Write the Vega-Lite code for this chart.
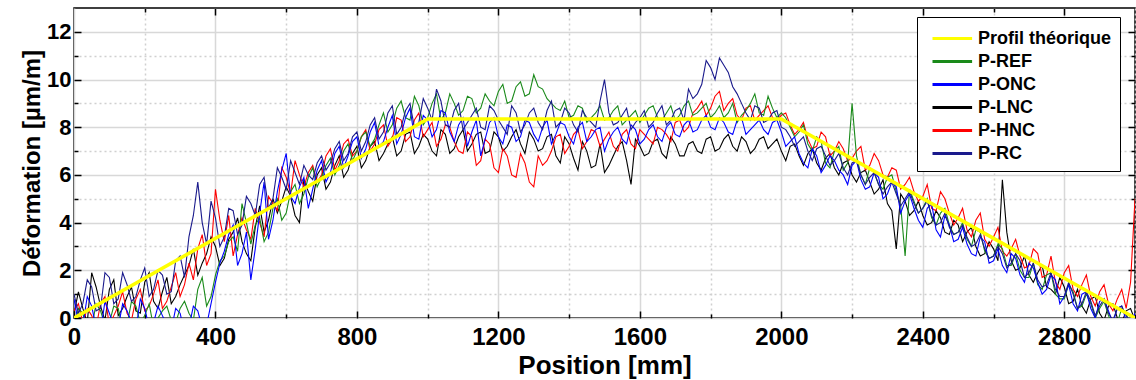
{
"$schema": "https://vega.github.io/schema/vega-lite/v6.json",
"width": 1061, "height": 310,
"autosize": {"type": "none"},
"padding": {"left": 74, "top": 8, "right": 1, "bottom": 62},
"background": "white",
"config": {"view": {"stroke": "#000", "strokeWidth": 1.5}, "font": "Liberation Sans"},
"datasets": {
"meas": [
{"x":0,"P-REF":-0.5,"P-ONC":0.8,"P-LNC":0.2,"P-HNC":0.3,"P-RC":1.0},
{"x":25,"P-REF":0.2,"P-ONC":-0.3,"P-LNC":0.4,"P-HNC":-0.2,"P-RC":0.6},
{"x":50,"P-REF":-0.4,"P-ONC":0.5,"P-LNC":1.9,"P-HNC":0.1,"P-RC":1.3},
{"x":75,"P-REF":0.3,"P-ONC":-0.6,"P-LNC":0.5,"P-HNC":0.6,"P-RC":0.4},
{"x":100,"P-REF":-0.2,"P-ONC":0.2,"P-LNC":1.2,"P-HNC":-0.3,"P-RC":1.7},
{"x":125,"P-REF":0.4,"P-ONC":-0.4,"P-LNC":0.1,"P-HNC":0.5,"P-RC":0.8},
{"x":150,"P-REF":-0.3,"P-ONC":0.3,"P-LNC":0.9,"P-HNC":0.2,"P-RC":1.4},
{"x":175,"P-REF":0.5,"P-ONC":-0.5,"P-LNC":0.3,"P-HNC":0.8,"P-RC":0.9},
{"x":200,"P-REF":0.1,"P-ONC":0.4,"P-LNC":1.5,"P-HNC":0.3,"P-RC":2.1},
{"x":225,"P-REF":-0.4,"P-ONC":-0.2,"P-LNC":0.7,"P-HNC":1.0,"P-RC":1.2},
{"x":250,"P-REF":0.3,"P-ONC":0.1,"P-LNC":1.1,"P-HNC":0.4,"P-RC":1.8},
{"x":275,"P-REF":-0.1,"P-ONC":-0.5,"P-LNC":0.6,"P-HNC":1.3,"P-RC":1.1},
{"x":300,"P-REF":0.4,"P-ONC":0.2,"P-LNC":1.4,"P-HNC":0.9,"P-RC":2.6},
{"x":325,"P-REF":0.2,"P-ONC":-0.4,"P-LNC":2.2,"P-HNC":2.3,"P-RC":3.4},
{"x":350,"P-REF":1.2,"P-ONC":0.3,"P-LNC":1.8,"P-HNC":2.9,"P-RC":5.7},
{"x":375,"P-REF":0.5,"P-ONC":-0.3,"P-LNC":2.7,"P-HNC":2.2,"P-RC":3.1},
{"x":400,"P-REF":1.8,"P-ONC":1.5,"P-LNC":3.0,"P-HNC":5.4,"P-RC":4.2},
{"x":425,"P-REF":2.6,"P-ONC":2.8,"P-LNC":2.5,"P-HNC":3.2,"P-RC":3.4},
{"x":450,"P-REF":3.4,"P-ONC":3.9,"P-LNC":3.6,"P-HNC":2.6,"P-RC":4.5},
{"x":475,"P-REF":4.8,"P-ONC":2.7,"P-LNC":3.2,"P-HNC":4.2,"P-RC":3.9},
{"x":500,"P-REF":3.1,"P-ONC":1.6,"P-LNC":2.4,"P-HNC":3.3,"P-RC":4.8},
{"x":525,"P-REF":4.2,"P-ONC":4.4,"P-LNC":4.7,"P-HNC":4.0,"P-RC":5.6},
{"x":550,"P-REF":3.6,"P-ONC":3.3,"P-LNC":4.1,"P-HNC":5.1,"P-RC":4.6},
{"x":575,"P-REF":5.0,"P-ONC":5.3,"P-LNC":4.4,"P-HNC":4.5,"P-RC":6.3},
{"x":600,"P-REF":4.4,"P-ONC":6.9,"P-LNC":5.5,"P-HNC":5.9,"P-RC":5.4},
{"x":625,"P-REF":5.6,"P-ONC":4.8,"P-LNC":4.3,"P-HNC":6.6,"P-RC":6.1},
{"x":650,"P-REF":5.2,"P-ONC":5.9,"P-LNC":5.8,"P-HNC":5.5,"P-RC":6.4},
{"x":675,"P-REF":6.3,"P-ONC":5.4,"P-LNC":4.9,"P-HNC":6.4,"P-RC":5.8},
{"x":700,"P-REF":5.9,"P-ONC":6.6,"P-LNC":6.3,"P-HNC":6.0,"P-RC":6.8},
{"x":725,"P-REF":6.7,"P-ONC":6.1,"P-LNC":5.7,"P-HNC":7.1,"P-RC":6.5},
{"x":750,"P-REF":6.4,"P-ONC":7.2,"P-LNC":6.8,"P-HNC":6.6,"P-RC":7.4},
{"x":775,"P-REF":7.3,"P-ONC":6.8,"P-LNC":6.2,"P-HNC":7.5,"P-RC":6.9},
{"x":800,"P-REF":7.0,"P-ONC":7.6,"P-LNC":7.2,"P-HNC":7.0,"P-RC":7.8},
{"x":825,"P-REF":7.8,"P-ONC":7.1,"P-LNC":6.6,"P-HNC":7.9,"P-RC":7.4},
{"x":850,"P-REF":7.5,"P-ONC":8.2,"P-LNC":7.4,"P-HNC":7.3,"P-RC":8.4},
{"x":875,"P-REF":8.6,"P-ONC":7.4,"P-LNC":6.9,"P-HNC":8.1,"P-RC":7.8},
{"x":900,"P-REF":8.1,"P-ONC":8.5,"P-LNC":7.6,"P-HNC":7.5,"P-RC":8.9},
{"x":925,"P-REF":9.1,"P-ONC":7.7,"P-LNC":7.0,"P-HNC":8.3,"P-RC":8.0},
{"x":950,"P-REF":8.3,"P-ONC":8.8,"P-LNC":7.8,"P-HNC":7.6,"P-RC":9.0},
{"x":975,"P-REF":8.9,"P-ONC":7.5,"P-LNC":7.2,"P-HNC":8.6,"P-RC":8.2},
{"x":1000,"P-REF":8.4,"P-ONC":8.3,"P-LNC":7.5,"P-HNC":7.9,"P-RC":8.8},
{"x":1025,"P-REF":9.4,"P-ONC":7.9,"P-LNC":6.8,"P-HNC":7.2,"P-RC":9.6},
{"x":1050,"P-REF":8.6,"P-ONC":8.6,"P-LNC":7.7,"P-HNC":8.1,"P-RC":8.1},
{"x":1075,"P-REF":9.0,"P-ONC":7.4,"P-LNC":7.1,"P-HNC":7.4,"P-RC":8.7},
{"x":1100,"P-REF":8.7,"P-ONC":8.4,"P-LNC":7.9,"P-HNC":6.9,"P-RC":7.9},
{"x":1125,"P-REF":9.2,"P-ONC":7.8,"P-LNC":7.3,"P-HNC":7.6,"P-RC":8.5},
{"x":1150,"P-REF":8.8,"P-ONC":6.8,"P-LNC":7.8,"P-HNC":6.6,"P-RC":8.0},
{"x":1175,"P-REF":9.1,"P-ONC":8.2,"P-LNC":7.0,"P-HNC":7.3,"P-RC":8.9},
{"x":1200,"P-REF":9.5,"P-ONC":7.6,"P-LNC":7.6,"P-HNC":6.1,"P-RC":8.3},
{"x":1225,"P-REF":9.0,"P-ONC":8.1,"P-LNC":7.2,"P-HNC":6.8,"P-RC":7.7},
{"x":1250,"P-REF":9.7,"P-ONC":7.4,"P-LNC":7.9,"P-HNC":5.9,"P-RC":8.6},
{"x":1275,"P-REF":9.3,"P-ONC":8.3,"P-LNC":6.9,"P-HNC":6.5,"P-RC":8.1},
{"x":1300,"P-REF":10.2,"P-ONC":7.7,"P-LNC":7.5,"P-HNC":5.5,"P-RC":8.8},
{"x":1325,"P-REF":9.6,"P-ONC":8.0,"P-LNC":7.1,"P-HNC":6.4,"P-RC":7.9},
{"x":1350,"P-REF":9.0,"P-ONC":7.3,"P-LNC":7.7,"P-HNC":7.0,"P-RC":9.1},
{"x":1375,"P-REF":8.7,"P-ONC":8.2,"P-LNC":6.5,"P-HNC":7.7,"P-RC":8.2},
{"x":1400,"P-REF":8.4,"P-ONC":7.6,"P-LNC":7.3,"P-HNC":7.2,"P-RC":8.6},
{"x":1425,"P-REF":8.9,"P-ONC":8.0,"P-LNC":6.2,"P-HNC":7.9,"P-RC":7.8},
{"x":1450,"P-REF":8.2,"P-ONC":7.4,"P-LNC":7.0,"P-HNC":7.4,"P-RC":8.4},
{"x":1475,"P-REF":8.6,"P-ONC":7.9,"P-LNC":6.4,"P-HNC":7.8,"P-RC":8.0},
{"x":1500,"P-REF":8.3,"P-ONC":7.0,"P-LNC":6.1,"P-HNC":7.5,"P-RC":10.0},
{"x":1525,"P-REF":8.7,"P-ONC":7.8,"P-LNC":6.8,"P-HNC":7.2,"P-RC":8.1},
{"x":1550,"P-REF":8.1,"P-ONC":7.5,"P-LNC":7.4,"P-HNC":7.7,"P-RC":8.5},
{"x":1575,"P-REF":8.5,"P-ONC":8.1,"P-LNC":5.6,"P-HNC":7.3,"P-RC":7.9},
{"x":1600,"P-REF":8.2,"P-ONC":7.3,"P-LNC":7.2,"P-HNC":7.9,"P-RC":8.4},
{"x":1625,"P-REF":8.8,"P-ONC":7.9,"P-LNC":6.9,"P-HNC":7.5,"P-RC":8.0},
{"x":1650,"P-REF":8.4,"P-ONC":7.6,"P-LNC":7.5,"P-HNC":8.0,"P-RC":8.6},
{"x":1675,"P-REF":8.6,"P-ONC":8.0,"P-LNC":6.7,"P-HNC":7.7,"P-RC":8.1},
{"x":1700,"P-REF":8.3,"P-ONC":7.7,"P-LNC":7.3,"P-HNC":8.2,"P-RC":8.7},
{"x":1725,"P-REF":8.9,"P-ONC":8.1,"P-LNC":6.8,"P-HNC":7.8,"P-RC":8.3},
{"x":1750,"P-REF":8.5,"P-ONC":7.8,"P-LNC":7.4,"P-HNC":8.6,"P-RC":9.2},
{"x":1775,"P-REF":8.8,"P-ONC":8.3,"P-LNC":6.9,"P-HNC":9.1,"P-RC":9.8},
{"x":1800,"P-REF":8.4,"P-ONC":8.0,"P-LNC":7.6,"P-HNC":8.8,"P-RC":10.5},
{"x":1825,"P-REF":8.9,"P-ONC":8.4,"P-LNC":7.1,"P-HNC":9.5,"P-RC":10.9},
{"x":1850,"P-REF":8.6,"P-ONC":7.8,"P-LNC":7.7,"P-HNC":9.0,"P-RC":10.3},
{"x":1875,"P-REF":8.2,"P-ONC":8.3,"P-LNC":7.0,"P-HNC":8.5,"P-RC":9.4},
{"x":1900,"P-REF":8.7,"P-ONC":7.7,"P-LNC":7.4,"P-HNC":8.8,"P-RC":8.6},
{"x":1925,"P-REF":9.4,"P-ONC":8.1,"P-LNC":7.1,"P-HNC":8.3,"P-RC":8.9},
{"x":1950,"P-REF":8.5,"P-ONC":7.9,"P-LNC":7.6,"P-HNC":8.7,"P-RC":8.2},
{"x":1975,"P-REF":8.8,"P-ONC":8.2,"P-LNC":7.3,"P-HNC":8.4,"P-RC":8.6},
{"x":2000,"P-REF":8.6,"P-ONC":7.8,"P-LNC":7.0,"P-HNC":8.5,"P-RC":8.0},
{"x":2025,"P-REF":8.0,"P-ONC":7.4,"P-LNC":7.2,"P-HNC":8.1,"P-RC":7.6},
{"x":2050,"P-REF":7.8,"P-ONC":6.9,"P-LNC":6.8,"P-HNC":7.9,"P-RC":7.4},
{"x":2075,"P-REF":7.3,"P-ONC":6.3,"P-LNC":6.9,"P-HNC":7.5,"P-RC":7.0},
{"x":2100,"P-REF":7.6,"P-ONC":6.8,"P-LNC":6.5,"P-HNC":7.2,"P-RC":7.1},
{"x":2125,"P-REF":6.5,"P-ONC":6.4,"P-LNC":6.7,"P-HNC":7.6,"P-RC":6.8},
{"x":2150,"P-REF":7.0,"P-ONC":6.6,"P-LNC":6.3,"P-HNC":7.0,"P-RC":6.6},
{"x":2175,"P-REF":6.2,"P-ONC":6.0,"P-LNC":6.5,"P-HNC":7.1,"P-RC":6.3},
{"x":2200,"P-REF":9.0,"P-ONC":6.4,"P-LNC":6.0,"P-HNC":6.7,"P-RC":6.5},
{"x":2225,"P-REF":6.0,"P-ONC":5.8,"P-LNC":6.1,"P-HNC":7.2,"P-RC":6.0},
{"x":2250,"P-REF":6.3,"P-ONC":5.5,"P-LNC":5.7,"P-HNC":6.4,"P-RC":5.9},
{"x":2275,"P-REF":5.6,"P-ONC":5.9,"P-LNC":5.4,"P-HNC":6.6,"P-RC":5.6},
{"x":2300,"P-REF":5.9,"P-ONC":5.2,"P-LNC":4.8,"P-HNC":5.9,"P-RC":5.5},
{"x":2325,"P-REF":5.3,"P-ONC":5.5,"P-LNC":2.9,"P-HNC":6.2,"P-RC":5.2},
{"x":2350,"P-REF":2.6,"P-ONC":4.9,"P-LNC":4.9,"P-HNC":5.6,"P-RC":5.0},
{"x":2375,"P-REF":4.9,"P-ONC":4.6,"P-LNC":4.5,"P-HNC":5.3,"P-RC":4.8},
{"x":2400,"P-REF":4.6,"P-ONC":3.8,"P-LNC":4.3,"P-HNC":5.1,"P-RC":4.6},
{"x":2425,"P-REF":4.2,"P-ONC":4.8,"P-LNC":4.0,"P-HNC":4.6,"P-RC":4.3},
{"x":2450,"P-REF":4.4,"P-ONC":3.4,"P-LNC":4.2,"P-HNC":5.3,"P-RC":4.0},
{"x":2475,"P-REF":3.9,"P-ONC":3.9,"P-LNC":3.5,"P-HNC":4.4,"P-RC":3.8},
{"x":2500,"P-REF":3.6,"P-ONC":3.3,"P-LNC":3.9,"P-HNC":4.2,"P-RC":3.6},
{"x":2525,"P-REF":3.3,"P-ONC":3.1,"P-LNC":3.6,"P-HNC":3.7,"P-RC":3.4},
{"x":2550,"P-REF":3.7,"P-ONC":2.6,"P-LNC":3.0,"P-HNC":4.1,"P-RC":3.1},
{"x":2575,"P-REF":2.8,"P-ONC":3.2,"P-LNC":2.7,"P-HNC":3.3,"P-RC":2.9},
{"x":2600,"P-REF":2.6,"P-ONC":2.4,"P-LNC":2.9,"P-HNC":3.4,"P-RC":2.6},
{"x":2625,"P-REF":2.9,"P-ONC":2.2,"P-LNC":5.8,"P-HNC":2.8,"P-RC":2.7},
{"x":2650,"P-REF":2.2,"P-ONC":2.7,"P-LNC":2.4,"P-HNC":2.9,"P-RC":2.3},
{"x":2675,"P-REF":2.0,"P-ONC":1.8,"P-LNC":2.1,"P-HNC":2.6,"P-RC":2.4},
{"x":2700,"P-REF":1.7,"P-ONC":2.3,"P-LNC":1.8,"P-HNC":2.2,"P-RC":1.9},
{"x":2725,"P-REF":1.4,"P-ONC":1.5,"P-LNC":1.9,"P-HNC":2.7,"P-RC":1.6},
{"x":2750,"P-REF":1.8,"P-ONC":1.2,"P-LNC":1.3,"P-HNC":1.8,"P-RC":1.4},
{"x":2775,"P-REF":1.0,"P-ONC":1.6,"P-LNC":1.0,"P-HNC":1.5,"P-RC":1.2},
{"x":2800,"P-REF":0.8,"P-ONC":0.9,"P-LNC":1.3,"P-HNC":1.9,"P-RC":0.9},
{"x":2825,"P-REF":1.1,"P-ONC":0.6,"P-LNC":0.7,"P-HNC":1.2,"P-RC":1.0},
{"x":2850,"P-REF":0.5,"P-ONC":1.0,"P-LNC":0.5,"P-HNC":1.4,"P-RC":0.6},
{"x":2875,"P-REF":0.6,"P-ONC":0.4,"P-LNC":0.8,"P-HNC":0.9,"P-RC":0.7},
{"x":2900,"P-REF":0.4,"P-ONC":0.7,"P-LNC":0.2,"P-HNC":1.1,"P-RC":0.5},
{"x":2925,"P-REF":0.1,"P-ONC":0.3,"P-LNC":0.5,"P-HNC":0.6,"P-RC":0.2},
{"x":2950,"P-REF":-0.2,"P-ONC":0.4,"P-LNC":0.0,"P-HNC":0.8,"P-RC":0.4},
{"x":2975,"P-REF":0.2,"P-ONC":-0.1,"P-LNC":0.3,"P-HNC":0.4,"P-RC":0.1},
{"x":3000,"P-REF":-0.3,"P-ONC":0.2,"P-LNC":-0.1,"P-HNC":5.0,"P-RC":0.0},
{"x":12.5,"P-REF":0.4,"P-ONC":-0.2,"P-LNC":1.1,"P-HNC":0.6,"P-RC":0.2},
{"x":37.5,"P-REF":-0.6,"P-ONC":0.9,"P-LNC":-0.2,"P-HNC":0.4,"P-RC":1.6},
{"x":62.5,"P-REF":0.6,"P-ONC":-0.4,"P-LNC":1.3,"P-HNC":-0.4,"P-RC":0.3},
{"x":87.5,"P-REF":-0.3,"P-ONC":0.7,"P-LNC":-0.1,"P-HNC":0.9,"P-RC":1.9},
{"x":112.5,"P-REF":0.5,"P-ONC":-0.3,"P-LNC":1.6,"P-HNC":0.1,"P-RC":0.6},
{"x":137.5,"P-REF":-0.5,"P-ONC":0.6,"P-LNC":0.4,"P-HNC":1.1,"P-RC":1.9},
{"x":162.5,"P-REF":0.7,"P-ONC":-0.2,"P-LNC":1.3,"P-HNC":-0.1,"P-RC":0.7},
{"x":187.5,"P-REF":-0.2,"P-ONC":0.8,"P-LNC":0.2,"P-HNC":1.2,"P-RC":1.6},
{"x":212.5,"P-REF":0.6,"P-ONC":-0.4,"P-LNC":1.9,"P-HNC":0.5,"P-RC":0.9},
{"x":237.5,"P-REF":0.0,"P-ONC":0.5,"P-LNC":0.4,"P-HNC":1.6,"P-RC":2.0},
{"x":262.5,"P-REF":0.5,"P-ONC":-0.3,"P-LNC":1.7,"P-HNC":0.7,"P-RC":1.0},
{"x":287.5,"P-REF":-0.2,"P-ONC":0.4,"P-LNC":0.9,"P-HNC":1.9,"P-RC":2.4},
{"x":312.5,"P-REF":0.7,"P-ONC":-0.6,"P-LNC":1.8,"P-HNC":1.4,"P-RC":1.7},
{"x":337.5,"P-REF":-0.1,"P-ONC":0.5,"P-LNC":2.9,"P-HNC":1.6,"P-RC":4.3},
{"x":362.5,"P-REF":1.7,"P-ONC":-0.4,"P-LNC":2.3,"P-HNC":3.5,"P-RC":4.0},
{"x":387.5,"P-REF":0.9,"P-ONC":0.6,"P-LNC":3.4,"P-HNC":2.7,"P-RC":4.9},
{"x":412.5,"P-REF":2.4,"P-ONC":2.3,"P-LNC":2.2,"P-HNC":4.1,"P-RC":3.0},
{"x":437.5,"P-REF":3.2,"P-ONC":3.5,"P-LNC":3.3,"P-HNC":4.3,"P-RC":4.6},
{"x":462.5,"P-REF":2.8,"P-ONC":2.2,"P-LNC":4.2,"P-HNC":3.5,"P-RC":3.5},
{"x":487.5,"P-REF":4.0,"P-ONC":3.6,"P-LNC":2.7,"P-HNC":3.7,"P-RC":5.1},
{"x":512.5,"P-REF":3.9,"P-ONC":2.9,"P-LNC":3.8,"P-HNC":4.6,"P-RC":4.3},
{"x":537.5,"P-REF":3.2,"P-ONC":5.7,"P-LNC":3.6,"P-HNC":3.4,"P-RC":5.9},
{"x":562.5,"P-REF":4.6,"P-ONC":4.1,"P-LNC":5.0,"P-HNC":4.8,"P-RC":5.0},
{"x":587.5,"P-REF":4.1,"P-ONC":6.2,"P-LNC":4.9,"P-HNC":6.3,"P-RC":5.9},
{"x":612.5,"P-REF":5.3,"P-ONC":5.1,"P-LNC":5.1,"P-HNC":5.2,"P-RC":6.6},
{"x":637.5,"P-REF":4.8,"P-ONC":5.5,"P-LNC":4.0,"P-HNC":6.0,"P-RC":5.6},
{"x":662.5,"P-REF":5.9,"P-ONC":4.6,"P-LNC":5.3,"P-HNC":6.1,"P-RC":6.0},
{"x":687.5,"P-REF":5.5,"P-ONC":6.2,"P-LNC":6.0,"P-HNC":5.7,"P-RC":6.5},
{"x":712.5,"P-REF":6.4,"P-ONC":5.7,"P-LNC":5.4,"P-HNC":6.8,"P-RC":6.2},
{"x":737.5,"P-REF":6.0,"P-ONC":6.9,"P-LNC":6.4,"P-HNC":6.2,"P-RC":7.1},
{"x":762.5,"P-REF":7.0,"P-ONC":6.3,"P-LNC":5.9,"P-HNC":7.3,"P-RC":6.6},
{"x":787.5,"P-REF":6.6,"P-ONC":7.4,"P-LNC":6.9,"P-HNC":6.8,"P-RC":7.6},
{"x":812.5,"P-REF":7.6,"P-ONC":6.7,"P-LNC":6.3,"P-HNC":7.6,"P-RC":7.0},
{"x":837.5,"P-REF":7.2,"P-ONC":7.8,"P-LNC":7.2,"P-HNC":7.0,"P-RC":8.1},
{"x":862.5,"P-REF":8.1,"P-ONC":7.2,"P-LNC":6.6,"P-HNC":7.9,"P-RC":7.5},
{"x":887.5,"P-REF":7.8,"P-ONC":8.0,"P-LNC":7.3,"P-HNC":7.2,"P-RC":8.6},
{"x":912.5,"P-REF":8.8,"P-ONC":7.3,"P-LNC":6.8,"P-HNC":8.4,"P-RC":7.7},
{"x":937.5,"P-REF":8.4,"P-ONC":8.4,"P-LNC":7.7,"P-HNC":7.4,"P-RC":8.7},
{"x":962.5,"P-REF":9.3,"P-ONC":7.6,"P-LNC":6.9,"P-HNC":8.3,"P-RC":8.0},
{"x":987.5,"P-REF":8.1,"P-ONC":8.5,"P-LNC":7.7,"P-HNC":7.6,"P-RC":9.2},
{"x":1012.5,"P-REF":9.0,"P-ONC":7.6,"P-LNC":7.0,"P-HNC":8.2,"P-RC":8.3},
{"x":1037.5,"P-REF":8.3,"P-ONC":8.7,"P-LNC":7.9,"P-HNC":7.5,"P-RC":9.1},
{"x":1062.5,"P-REF":9.4,"P-ONC":7.8,"P-LNC":6.9,"P-HNC":8.0,"P-RC":8.0},
{"x":1087.5,"P-REF":8.5,"P-ONC":8.1,"P-LNC":7.6,"P-HNC":7.0,"P-RC":9.0},
{"x":1112.5,"P-REF":9.3,"P-ONC":7.2,"P-LNC":7.0,"P-HNC":7.8,"P-RC":8.2},
{"x":1137.5,"P-REF":8.6,"P-ONC":8.3,"P-LNC":7.7,"P-HNC":6.4,"P-RC":8.8},
{"x":1162.5,"P-REF":9.4,"P-ONC":7.5,"P-LNC":6.9,"P-HNC":7.5,"P-RC":7.9},
{"x":1187.5,"P-REF":8.9,"P-ONC":8.4,"P-LNC":7.8,"P-HNC":6.3,"P-RC":8.7},
{"x":1212.5,"P-REF":9.8,"P-ONC":7.3,"P-LNC":7.0,"P-HNC":7.1,"P-RC":8.0},
{"x":1237.5,"P-REF":9.1,"P-ONC":8.0,"P-LNC":7.6,"P-HNC":6.0,"P-RC":8.9},
{"x":1262.5,"P-REF":9.9,"P-ONC":7.6,"P-LNC":7.3,"P-HNC":6.9,"P-RC":7.8},
{"x":1287.5,"P-REF":9.4,"P-ONC":8.2,"P-LNC":7.8,"P-HNC":5.7,"P-RC":8.6},
{"x":1312.5,"P-REF":9.7,"P-ONC":7.4,"P-LNC":7.0,"P-HNC":6.8,"P-RC":8.2},
{"x":1337.5,"P-REF":9.2,"P-ONC":8.3,"P-LNC":7.6,"P-HNC":6.6,"P-RC":8.7},
{"x":1362.5,"P-REF":8.8,"P-ONC":7.7,"P-LNC":6.8,"P-HNC":7.6,"P-RC":8.0},
{"x":1387.5,"P-REF":9.1,"P-ONC":8.1,"P-LNC":7.6,"P-HNC":6.9,"P-RC":8.8},
{"x":1412.5,"P-REF":8.5,"P-ONC":7.3,"P-LNC":6.7,"P-HNC":7.7,"P-RC":8.1},
{"x":1437.5,"P-REF":8.8,"P-ONC":8.2,"P-LNC":7.4,"P-HNC":7.1,"P-RC":8.7},
{"x":1462.5,"P-REF":8.4,"P-ONC":7.6,"P-LNC":6.3,"P-HNC":7.9,"P-RC":8.2},
{"x":1487.5,"P-REF":8.9,"P-ONC":8.0,"P-LNC":7.3,"P-HNC":7.2,"P-RC":9.1},
{"x":1512.5,"P-REF":8.4,"P-ONC":7.5,"P-LNC":6.4,"P-HNC":7.8,"P-RC":8.6},
{"x":1537.5,"P-REF":8.9,"P-ONC":8.0,"P-LNC":7.2,"P-HNC":7.0,"P-RC":8.2},
{"x":1562.5,"P-REF":8.3,"P-ONC":7.3,"P-LNC":6.6,"P-HNC":7.9,"P-RC":8.8},
{"x":1587.5,"P-REF":8.7,"P-ONC":7.9,"P-LNC":7.5,"P-HNC":7.1,"P-RC":8.2},
{"x":1612.5,"P-REF":8.5,"P-ONC":7.5,"P-LNC":6.8,"P-HNC":7.7,"P-RC":8.7},
{"x":1637.5,"P-REF":8.9,"P-ONC":8.1,"P-LNC":7.4,"P-HNC":7.3,"P-RC":8.2},
{"x":1662.5,"P-REF":8.3,"P-ONC":7.4,"P-LNC":6.9,"P-HNC":7.9,"P-RC":8.9},
{"x":1687.5,"P-REF":8.9,"P-ONC":8.2,"P-LNC":7.6,"P-HNC":7.4,"P-RC":8.3},
{"x":1712.5,"P-REF":8.5,"P-ONC":7.6,"P-LNC":6.8,"P-HNC":8.3,"P-RC":8.8},
{"x":1737.5,"P-REF":9.1,"P-ONC":8.3,"P-LNC":7.3,"P-HNC":8.0,"P-RC":9.6},
{"x":1762.5,"P-REF":8.6,"P-ONC":7.9,"P-LNC":7.0,"P-HNC":8.8,"P-RC":9.4},
{"x":1787.5,"P-REF":9.0,"P-ONC":8.5,"P-LNC":7.5,"P-HNC":8.5,"P-RC":10.8},
{"x":1812.5,"P-REF":8.6,"P-ONC":7.9,"P-LNC":7.0,"P-HNC":9.3,"P-RC":10.0},
{"x":1837.5,"P-REF":8.4,"P-ONC":8.2,"P-LNC":7.5,"P-HNC":8.7,"P-RC":10.6},
{"x":1862.5,"P-REF":9.0,"P-ONC":7.7,"P-LNC":7.2,"P-HNC":9.2,"P-RC":9.7},
{"x":1887.5,"P-REF":8.5,"P-ONC":8.4,"P-LNC":7.6,"P-HNC":8.3,"P-RC":9.0},
{"x":1912.5,"P-REF":9.0,"P-ONC":7.9,"P-LNC":6.9,"P-HNC":8.9,"P-RC":8.3},
{"x":1937.5,"P-REF":8.6,"P-ONC":8.3,"P-LNC":7.5,"P-HNC":8.5,"P-RC":8.8},
{"x":1962.5,"P-REF":9.3,"P-ONC":7.7,"P-LNC":7.1,"P-HNC":8.9,"P-RC":8.3},
{"x":1987.5,"P-REF":8.4,"P-ONC":8.3,"P-LNC":7.5,"P-HNC":8.3,"P-RC":8.7},
{"x":2012.5,"P-REF":8.4,"P-ONC":7.2,"P-LNC":6.6,"P-HNC":8.6,"P-RC":7.9},
{"x":2037.5,"P-REF":7.6,"P-ONC":7.6,"P-LNC":7.3,"P-HNC":7.7,"P-RC":7.2},
{"x":2062.5,"P-REF":8.1,"P-ONC":6.5,"P-LNC":6.4,"P-HNC":8.2,"P-RC":7.6},
{"x":2087.5,"P-REF":7.0,"P-ONC":7.1,"P-LNC":7.1,"P-HNC":7.1,"P-RC":6.6},
{"x":2112.5,"P-REF":7.4,"P-ONC":6.1,"P-LNC":6.2,"P-HNC":7.8,"P-RC":7.2},
{"x":2137.5,"P-REF":6.3,"P-ONC":6.8,"P-LNC":6.9,"P-HNC":6.8,"P-RC":6.4},
{"x":2162.5,"P-REF":7.2,"P-ONC":6.2,"P-LNC":6.0,"P-HNC":7.4,"P-RC":6.9},
{"x":2187.5,"P-REF":6.5,"P-ONC":5.6,"P-LNC":6.6,"P-HNC":6.6,"P-RC":6.0},
{"x":2212.5,"P-REF":6.8,"P-ONC":6.6,"P-LNC":5.7,"P-HNC":7.0,"P-RC":6.6},
{"x":2237.5,"P-REF":5.6,"P-ONC":5.4,"P-LNC":6.2,"P-HNC":6.2,"P-RC":5.6},
{"x":2262.5,"P-REF":6.1,"P-ONC":6.1,"P-LNC":5.2,"P-HNC":6.9,"P-RC":6.1},
{"x":2287.5,"P-REF":5.4,"P-ONC":5.0,"P-LNC":5.8,"P-HNC":6.0,"P-RC":5.2},
{"x":2312.5,"P-REF":6.0,"P-ONC":5.7,"P-LNC":4.5,"P-HNC":6.3,"P-RC":5.7},
{"x":2337.5,"P-REF":4.7,"P-ONC":4.4,"P-LNC":5.2,"P-HNC":5.4,"P-RC":4.7},
{"x":2362.5,"P-REF":5.4,"P-ONC":5.2,"P-LNC":4.3,"P-HNC":5.9,"P-RC":5.3},
{"x":2387.5,"P-REF":4.4,"P-ONC":4.1,"P-LNC":4.9,"P-HNC":4.9,"P-RC":4.4},
{"x":2412.5,"P-REF":5.0,"P-ONC":4.6,"P-LNC":3.9,"P-HNC":5.6,"P-RC":4.9},
{"x":2437.5,"P-REF":3.9,"P-ONC":3.7,"P-LNC":4.5,"P-HNC":4.5,"P-RC":3.9},
{"x":2462.5,"P-REF":4.6,"P-ONC":4.3,"P-LNC":3.6,"P-HNC":5.0,"P-RC":4.4},
{"x":2487.5,"P-REF":3.5,"P-ONC":3.2,"P-LNC":4.1,"P-HNC":3.9,"P-RC":3.5},
{"x":2512.5,"P-REF":4.0,"P-ONC":3.8,"P-LNC":3.2,"P-HNC":4.6,"P-RC":3.9},
{"x":2537.5,"P-REF":3.0,"P-ONC":2.7,"P-LNC":3.8,"P-HNC":3.4,"P-RC":3.0},
{"x":2562.5,"P-REF":3.6,"P-ONC":3.4,"P-LNC":2.6,"P-HNC":4.4,"P-RC":3.5},
{"x":2587.5,"P-REF":2.5,"P-ONC":2.3,"P-LNC":3.2,"P-HNC":3.0,"P-RC":2.5},
{"x":2612.5,"P-REF":3.1,"P-ONC":2.9,"P-LNC":2.4,"P-HNC":3.8,"P-RC":3.0},
{"x":2637.5,"P-REF":2.2,"P-ONC":1.9,"P-LNC":3.6,"P-HNC":2.6,"P-RC":2.1},
{"x":2662.5,"P-REF":2.7,"P-ONC":2.5,"P-LNC":2.0,"P-HNC":3.3,"P-RC":2.7},
{"x":2687.5,"P-REF":1.7,"P-ONC":1.5,"P-LNC":2.6,"P-HNC":2.1,"P-RC":1.7},
{"x":2712.5,"P-REF":2.3,"P-ONC":2.1,"P-LNC":1.5,"P-HNC":2.9,"P-RC":2.3},
{"x":2737.5,"P-REF":1.2,"P-ONC":1.0,"P-LNC":2.2,"P-HNC":1.7,"P-RC":1.3},
{"x":2762.5,"P-REF":1.9,"P-ONC":1.8,"P-LNC":1.2,"P-HNC":2.6,"P-RC":1.9},
{"x":2787.5,"P-REF":0.8,"P-ONC":0.6,"P-LNC":1.7,"P-HNC":1.2,"P-RC":0.9},
{"x":2812.5,"P-REF":1.4,"P-ONC":1.4,"P-LNC":0.6,"P-HNC":2.2,"P-RC":1.5},
{"x":2837.5,"P-REF":0.4,"P-ONC":0.3,"P-LNC":1.2,"P-HNC":0.9,"P-RC":0.4},
{"x":2862.5,"P-REF":1.0,"P-ONC":1.1,"P-LNC":0.2,"P-HNC":1.8,"P-RC":1.1},
{"x":2887.5,"P-REF":0.0,"P-ONC":0.0,"P-LNC":0.9,"P-HNC":0.5,"P-RC":0.1},
{"x":2912.5,"P-REF":0.7,"P-ONC":0.8,"P-LNC":-0.1,"P-HNC":1.4,"P-RC":0.8},
{"x":2937.5,"P-REF":-0.3,"P-ONC":-0.2,"P-LNC":0.6,"P-HNC":0.3,"P-RC":-0.1},
{"x":2962.5,"P-REF":0.4,"P-ONC":0.5,"P-LNC":-0.2,"P-HNC":1.2,"P-RC":0.5},
{"x":2987.5,"P-REF":-0.4,"P-ONC":-0.3,"P-LNC":0.4,"P-HNC":1.5,"P-RC":-0.2}
],
"theo": [
{"x":0,"y":0,"series":"Profil théorique"},
{"x":1000,"y":8.35,"series":"Profil théorique"},
{"x":2000,"y":8.35,"series":"Profil théorique"},
{"x":3000,"y":0,"series":"Profil théorique"}
]
},
"resolve": {"axis": {"x": "independent", "y": "independent"}},
"layer": [
{
"data": {"name": "meas"},
"transform": [{"fold": ["P-LNC", "P-HNC", "P-REF", "P-ONC", "P-RC"], "as": ["series", "y"]}],
"mark": {"type": "line", "strokeWidth": 1.1, "clip": true},
"encoding": {
"x": {"field": "x", "type": "quantitative",
"scale": {"domain": [0, 3000], "nice": false, "zero": false},
"axis": {"orient": "bottom", "values": [0,200,400,600,800,1000,1200,1400,1600,1800,2000,2200,2400,2600,2800,3000],
"format": "d", "labelExpr": "datum.value % 400 === 0 && datum.value < 3000 ? datum.label : ''",
"labelFlush": false, "labelOverlap": false,
"title": "Position [mm]", "titleFont": "Liberation Sans", "titleFontSize": 26, "titleFontWeight": "bold", "titleColor": "#000", "titlePadding": 0,
"labelFont": "Liberation Sans", "labelFontSize": 24, "labelFontWeight": "bold", "labelColor": "#000", "labelPadding": 14,
"domain": false, "ticks": true, "tickColor": "#000", "tickWidth": 1.5,
"tickSize": {"condition": {"test": "datum.value % 400 === 0", "value": -7}, "value": -4},
"grid": true, "gridWidth": 1.5,
"gridColor": {"condition": {"test": "datum.value % 400 === 0", "value": "#d8d8d8"}, "value": "#d0d0d0"},
"gridDash": {"condition": {"test": "datum.value % 400 === 0", "value": []}, "value": [2, 3]}}},
"y": {"field": "y", "type": "quantitative",
"scale": {"domain": [0, 13], "nice": false, "zero": false},
"axis": {"orient": "left", "values": [0,1,2,3,4,5,6,7,8,9,10,11,12],
"format": "d", "labelExpr": "datum.value % 2 === 0 ? datum.label : ''", "labelOverlap": false, "labelFlush": false,
"title": "Déformation [µm/m]", "titleFont": "Liberation Sans", "titleFontSize": 24, "titleFontWeight": "bold", "titleColor": "#000", "titlePadding": 2,
"labelFont": "Liberation Sans", "labelFontSize": 22, "labelFontWeight": "bold", "labelColor": "#000", "labelPadding": 10,
"domain": false, "ticks": true, "tickColor": "#000", "tickWidth": 1.5,
"tickSize": {"condition": {"test": "datum.value % 2 === 0", "value": -7}, "value": -4},
"grid": true, "gridWidth": 1.5,
"gridColor": {"condition": {"test": "datum.value % 2 === 0", "value": "#d8d8d8"}, "value": "#d0d0d0"},
"gridDash": {"condition": {"test": "datum.value % 2 === 0", "value": []}, "value": [2, 3]}}},
"color": {"field": "series", "type": "nominal",
"scale": {"domain": ["Profil théorique", "P-REF", "P-ONC", "P-LNC", "P-HNC", "P-RC"],
"range": ["#ffff00", "#1a8a1a", "#0000ff", "#000000", "#ff0000", "#1a1a8c"]},
"legend": {"orient": "none", "legendX": 843, "legendY": 9, "title": null,
"strokeColor": "#000", "fillColor": "#ffffff", "padding": 8,
"labelFont": "Liberation Sans", "labelFontWeight": "bold", "labelFontSize": 18, "labelColor": "#000",
"symbolType": "M-0.5,0H2.8", "symbolSize": 576, "symbolStrokeWidth": 3, "rowPadding": 0, "labelOffset": 26}}
}
},
{
"data": {"name": "theo"},
"mark": {"type": "line", "strokeWidth": 3.5, "clip": true},
"encoding": {
"x": {"field": "x", "type": "quantitative",
"axis": {"orient": "top", "values": [200,400,600,800,1000,1200,1400,1600,1800,2000,2200,2400,2600,2800],
"labels": false, "title": null, "domain": false, "grid": false, "ticks": true, "tickColor": "#000", "tickWidth": 1.5,
"tickSize": {"condition": {"test": "datum.value % 400 === 0", "value": -7}, "value": -4}}},
"y": {"field": "y", "type": "quantitative",
"axis": {"orient": "right", "values": [1,2,3,4,5,6,7,8,9,10,11,12],
"labels": false, "title": null, "domain": false, "grid": false, "ticks": true, "tickColor": "#000", "tickWidth": 1.5,
"tickSize": {"condition": {"test": "datum.value % 2 === 0", "value": -7}, "value": -4}}},
"color": {"field": "series", "type": "nominal",
"legend": {"orient": "none", "legendX": 843, "legendY": 9, "title": null,
"strokeColor": "#000", "fillColor": "#ffffff", "padding": 8,
"labelFont": "Liberation Sans", "labelFontWeight": "bold", "labelFontSize": 18, "labelColor": "#000",
"symbolType": "M-0.5,0H2.8", "symbolSize": 576, "symbolStrokeWidth": 3, "rowPadding": 0, "labelOffset": 26}}
}
}
]
}
